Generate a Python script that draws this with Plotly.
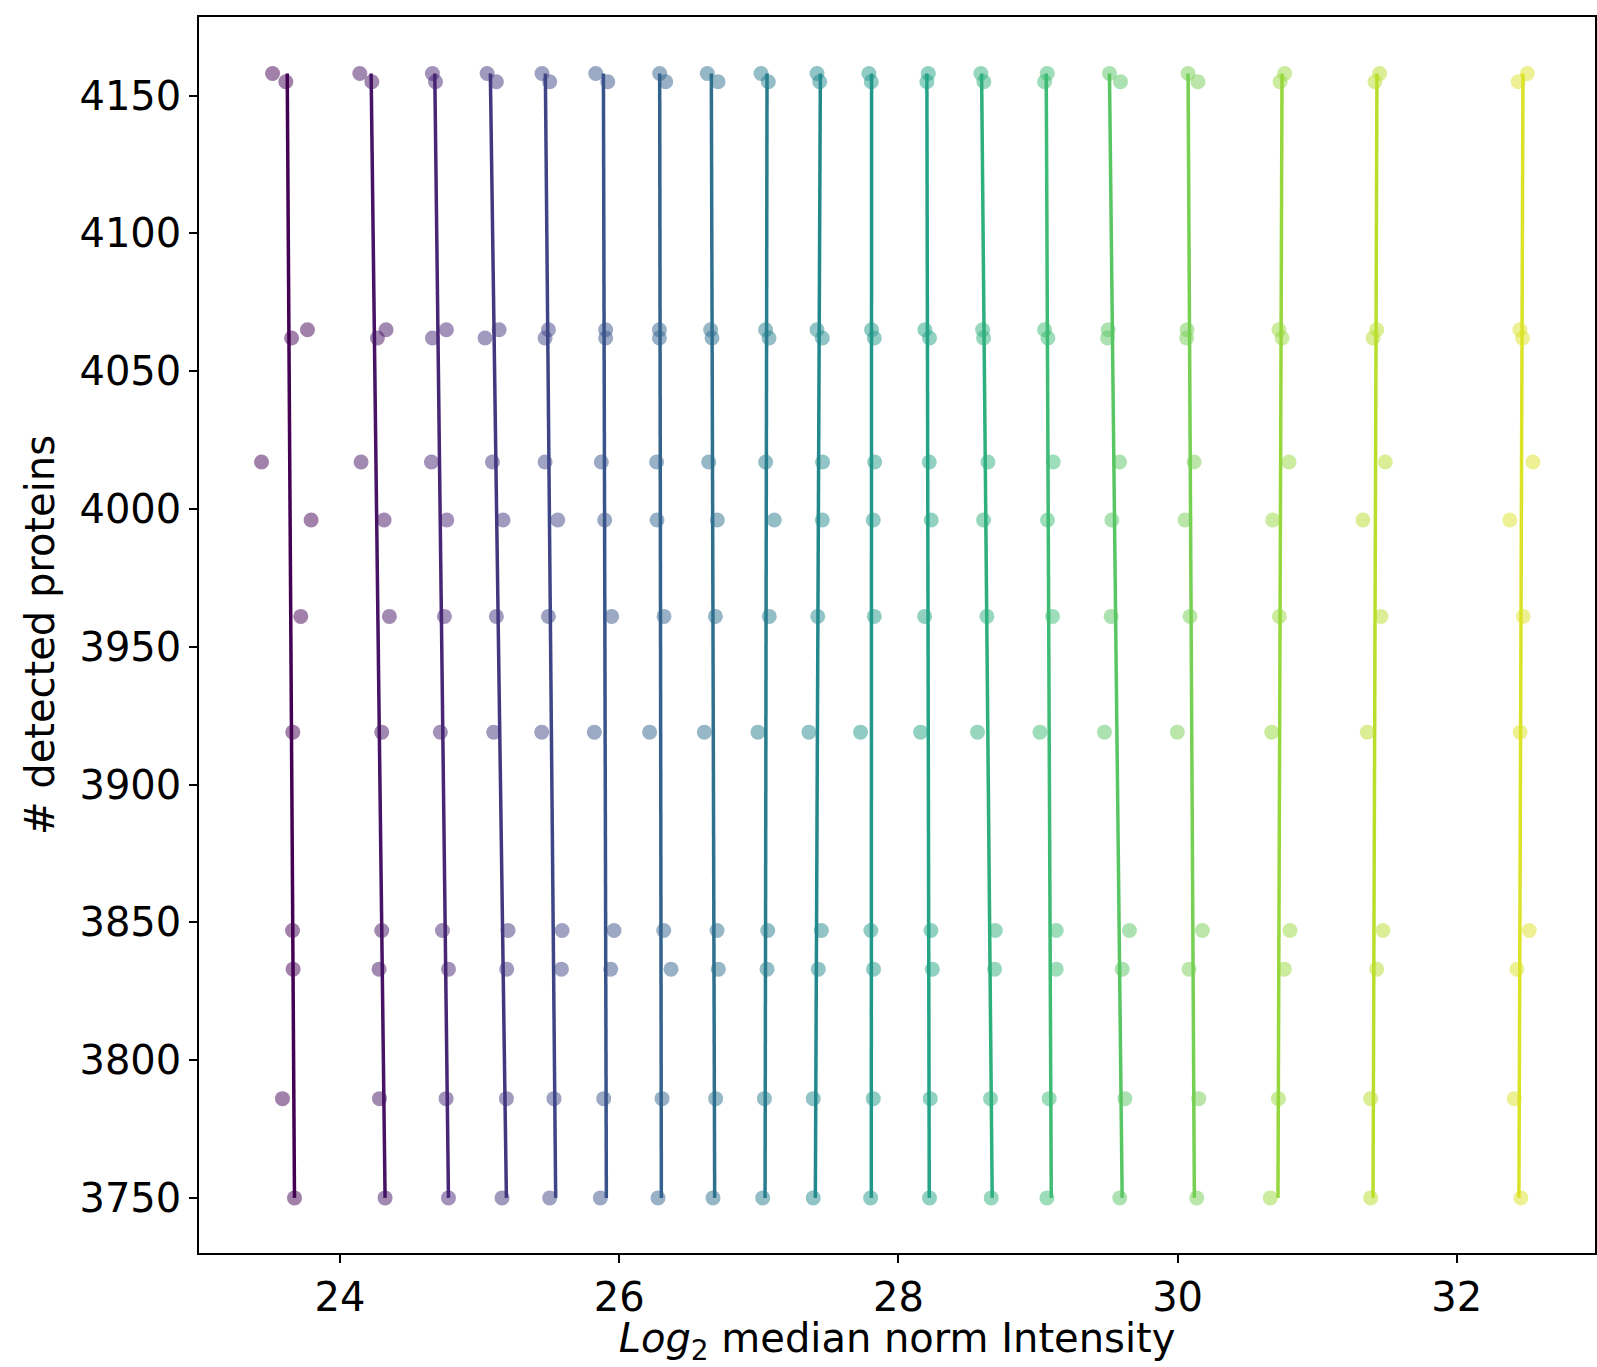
import plotly.graph_objects as go
from plotly.colors import sample_colorscale

# y levels (# detected proteins), shared by every column
y_levels = [4158, 4155, 4065, 4062, 4017, 3996, 3961, 3919, 3847, 3833, 3786, 3750]

# x values (Log2 median norm intensity) per column, ordered as y_levels
col01 = [23.517, 23.612, 23.767, 23.653, 23.438, 23.793, 23.719, 23.662, 23.660, 23.664, 23.588, 23.674]
col02 = [24.142, 24.228, 24.330, 24.268, 24.151, 24.316, 24.354, 24.299, 24.299, 24.280, 24.283, 24.323]
col03 = [24.662, 24.684, 24.762, 24.662, 24.655, 24.765, 24.748, 24.719, 24.734, 24.777, 24.760, 24.777]
col04 = [25.054, 25.120, 25.140, 25.039, 25.092, 25.168, 25.120, 25.101, 25.204, 25.194, 25.192, 25.161]
col05 = [25.447, 25.502, 25.493, 25.469, 25.469, 25.560, 25.493, 25.445, 25.591, 25.586, 25.533, 25.502]
col06 = [25.832, 25.918, 25.903, 25.903, 25.872, 25.896, 25.946, 25.822, 25.963, 25.939, 25.889, 25.865]
col07 = [26.290, 26.333, 26.288, 26.288, 26.268, 26.271, 26.321, 26.218, 26.319, 26.371, 26.307, 26.278]
col08 = [26.631, 26.708, 26.655, 26.665, 26.641, 26.703, 26.689, 26.610, 26.701, 26.710, 26.691, 26.672]
col09 = [27.016, 27.068, 27.049, 27.073, 27.049, 27.111, 27.075, 26.994, 27.064, 27.059, 27.040, 27.028]
col10 = [27.417, 27.436, 27.417, 27.455, 27.457, 27.455, 27.422, 27.359, 27.448, 27.426, 27.390, 27.390]
col11 = [27.789, 27.806, 27.808, 27.827, 27.830, 27.820, 27.827, 27.729, 27.803, 27.822, 27.820, 27.801]
col12 = [28.214, 28.204, 28.190, 28.223, 28.221, 28.235, 28.188, 28.159, 28.233, 28.243, 28.228, 28.223]
col13 = [28.591, 28.612, 28.603, 28.610, 28.641, 28.610, 28.634, 28.567, 28.694, 28.689, 28.660, 28.665]
col14 = [29.066, 29.047, 29.047, 29.071, 29.109, 29.068, 29.104, 29.014, 29.130, 29.130, 29.080, 29.064]
col15 = [29.512, 29.591, 29.503, 29.498, 29.584, 29.529, 29.524, 29.476, 29.655, 29.603, 29.622, 29.586]
col16 = [30.075, 30.146, 30.068, 30.065, 30.118, 30.053, 30.089, 29.998, 30.177, 30.082, 30.151, 30.137]
col17 = [30.767, 30.734, 30.726, 30.748, 30.798, 30.681, 30.729, 30.674, 30.805, 30.765, 30.722, 30.664]
col18 = [31.447, 31.414, 31.426, 31.400, 31.488, 31.328, 31.457, 31.359, 31.471, 31.426, 31.383, 31.383]
col19 = [32.505, 32.440, 32.452, 32.471, 32.545, 32.380, 32.476, 32.454, 32.519, 32.431, 32.412, 32.459]

# fitted line end points per column (x at top y and at bottom y)
line_y = [4158, 3750]
line_top_x = [23.622, 24.223, 24.679, 25.077, 25.471, 25.887, 26.290, 26.660, 27.059, 27.441,
              27.808, 28.204, 28.596, 29.059, 29.512, 30.075, 30.748, 31.428, 32.474]
line_bottom_x = [23.674, 24.323, 24.777, 25.192, 25.545, 25.908, 26.302, 26.684, 27.045, 27.405,
                 27.806, 28.221, 28.672, 29.095, 29.603, 30.120, 30.719, 31.400, 32.445]

x_ticks = [24, 26, 28, 30, 32]
y_ticks = [3750, 3800, 3850, 3900, 3950, 4000, 4050, 4100, 4150]

columns = [col01, col02, col03, col04, col05, col06, col07, col08, col09, col10,
           col11, col12, col13, col14, col15, col16, col17, col18, col19]
n = len(columns)
colors = sample_colorscale("Viridis", [i / n for i in range(n)])

fig = go.Figure()
for i, xs in enumerate(columns):
    fig.add_trace(go.Scatter(
        x=xs, y=y_levels, mode="markers",
        marker=dict(size=15, color=colors[i], opacity=0.5, line=dict(width=0)),
        showlegend=False, hoverinfo="x+y"))
    fig.add_trace(go.Scatter(
        x=[line_top_x[i], line_bottom_x[i]], y=line_y, mode="lines",
        line=dict(color=colors[i], width=3.5),
        showlegend=False, hoverinfo="skip"))

font_family = "DejaVu Sans"
fsize = 40
axis_common = dict(
    showline=True, linecolor="black", linewidth=1.5, mirror=True,
    ticks="outside", ticklen=8, tickwidth=1.5, tickcolor="black",
    showgrid=False, zeroline=False, automargin=True,
    tickfont=dict(family=font_family, size=fsize, color="black"),
)

fig.update_layout(
    width=1597, height=1367,
    margin=dict(l=199, r=2, t=17, b=114, autoexpand=False),
    paper_bgcolor="white", plot_bgcolor="white",
    font=dict(family=font_family, size=fsize, color="black"),
    xaxis=dict(range=[22.99, 32.99], tickvals=x_ticks,
               title=dict(text="<i>Log</i><sub>2</sub> median norm Intensity",
                          font=dict(family=font_family, size=fsize, color="black"),
                          standoff=12),
               **axis_common),
    yaxis=dict(range=[3730, 4178.5], tickvals=y_ticks,
               title=dict(text="# detected proteins",
                          font=dict(family=font_family, size=fsize, color="black"),
                          standoff=12),
               **axis_common),
)

fig.write_html("out.html", config={"displayModeBar": False},
               post_script="document.body.style.margin='0';")
